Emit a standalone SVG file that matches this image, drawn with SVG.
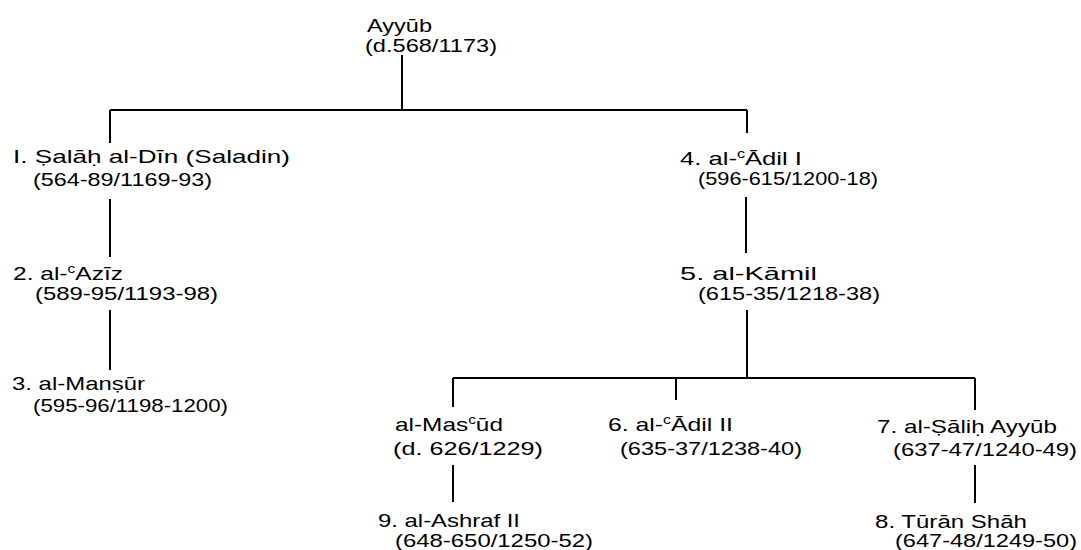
<svg xmlns="http://www.w3.org/2000/svg" width="1081" height="550" viewBox="0 0 1081 550">
<style>
text{font-family:"Liberation Sans","DejaVu Sans",sans-serif;font-size:19px;fill:#000}
.sup{font-size:12px}
.c line{stroke:#000;stroke-width:2;fill:none}
</style>
<rect width="1081" height="550" fill="#fff"/>
<g class="c" id="connectors">
<line x1="402" y1="55" x2="402" y2="110"/>
<line x1="110" y1="110" x2="747" y2="110"/>
<line x1="110" y1="110" x2="110" y2="143"/>
<line x1="747" y1="110" x2="747" y2="133"/>
<line x1="110" y1="199" x2="110" y2="257"/>
<line x1="110" y1="310" x2="110" y2="370"/>
<line x1="746" y1="197" x2="746" y2="253"/>
<line x1="747" y1="310" x2="747" y2="378"/>
<line x1="453" y1="378" x2="975" y2="378"/>
<line x1="453" y1="378" x2="453" y2="407"/>
<line x1="676" y1="378" x2="676" y2="400"/>
<line x1="975" y1="378" x2="975" y2="410"/>
<line x1="453" y1="465" x2="453" y2="502"/>
<line x1="975" y1="465" x2="975" y2="503"/>
</g>
<g id="ayyub">
<text x="367" y="32" textLength="65" lengthAdjust="spacingAndGlyphs">Ayyūb</text>
<text x="365" y="52" textLength="132" lengthAdjust="spacingAndGlyphs">(d.568/1173)</text>
</g>
<g id="n1">
<text x="13" y="163" textLength="277" lengthAdjust="spacingAndGlyphs">I. Ṣalāḥ al-Dīn (Saladin)</text>
<text x="33" y="186" textLength="179" lengthAdjust="spacingAndGlyphs">(564-89/1169-93)</text>
</g>
<g id="n2">
<text x="13" y="280" textLength="110" lengthAdjust="spacingAndGlyphs">2. al-<tspan class="sup" dy="-7">c</tspan><tspan dy="7">Azīz</tspan></text>
<text x="35" y="300" textLength="183" lengthAdjust="spacingAndGlyphs">(589-95/1193-98)</text>
</g>
<g id="n3">
<text x="12" y="390" textLength="133" lengthAdjust="spacingAndGlyphs">3. al-Manṣūr</text>
<text x="33" y="412" textLength="195" lengthAdjust="spacingAndGlyphs">(595-96/1198-1200)</text>
</g>
<g id="n4">
<text x="680" y="165" textLength="122" lengthAdjust="spacingAndGlyphs">4. al-<tspan class="sup" dy="-7">c</tspan><tspan dy="7">Ādil I</tspan></text>
<text x="698" y="185" textLength="180" lengthAdjust="spacingAndGlyphs">(596-615/1200-18)</text>
</g>
<g id="n5">
<text x="680" y="280" textLength="137" lengthAdjust="spacingAndGlyphs">5. al-Kāmil</text>
<text x="698" y="300" textLength="182" lengthAdjust="spacingAndGlyphs">(615-35/1218-38)</text>
</g>
<g id="masud">
<text x="395" y="431" textLength="108" lengthAdjust="spacingAndGlyphs">al-Mas<tspan class="sup" dy="-7">c</tspan><tspan dy="7">ūd</tspan></text>
<text x="393" y="455" textLength="150" lengthAdjust="spacingAndGlyphs">(d. 626/1229)</text>
</g>
<g id="n9">
<text x="378" y="527" textLength="142" lengthAdjust="spacingAndGlyphs">9. al-Ashraf II</text>
<text x="395" y="547" textLength="198" lengthAdjust="spacingAndGlyphs">(648-650/1250-52)</text>
</g>
<g id="n6">
<text x="608" y="431" textLength="125" lengthAdjust="spacingAndGlyphs">6. al-<tspan class="sup" dy="-7">c</tspan><tspan dy="7">Ādil II</tspan></text>
<text x="620" y="455" textLength="182" lengthAdjust="spacingAndGlyphs">(635-37/1238-40)</text>
</g>
<g id="n7">
<text x="877" y="433" textLength="180" lengthAdjust="spacingAndGlyphs">7. al-Ṣāliḥ Ayyūb</text>
<text x="893" y="456" textLength="184" lengthAdjust="spacingAndGlyphs">(637-47/1240-49)</text>
</g>
<g id="n8">
<text x="875" y="528" textLength="152" lengthAdjust="spacingAndGlyphs">8. Tūrān Shāh</text>
<text x="895" y="547" textLength="182" lengthAdjust="spacingAndGlyphs">(647-48/1249-50)</text>
</g>
</svg>
